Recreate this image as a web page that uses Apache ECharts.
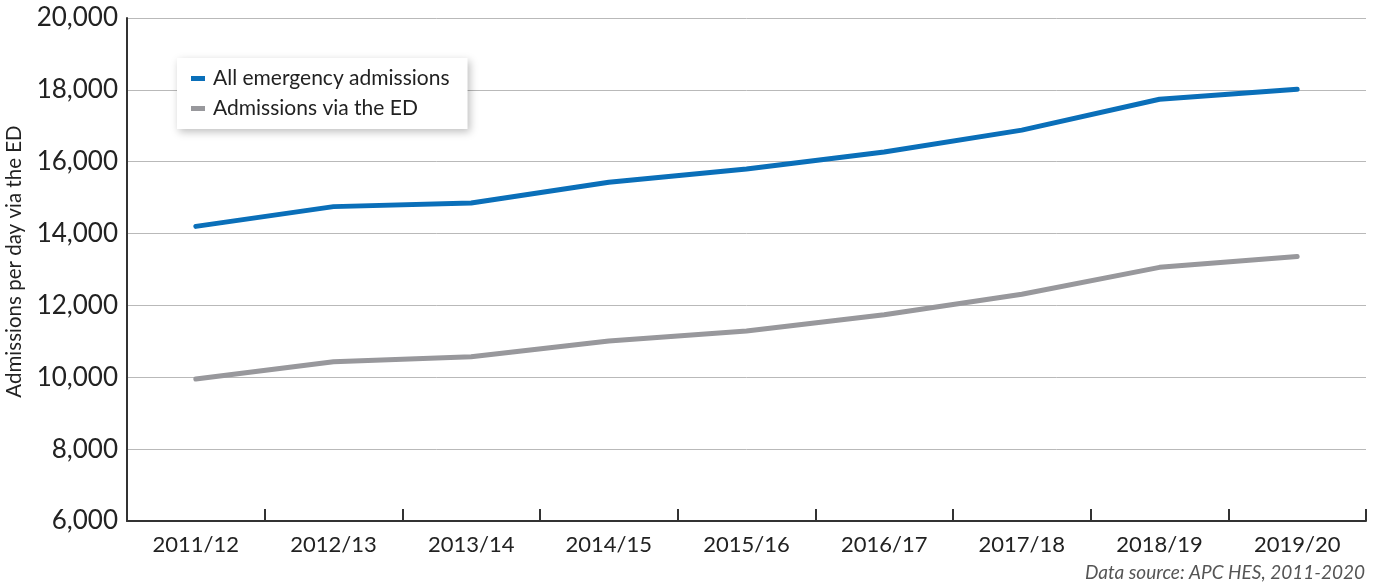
<!DOCTYPE html>
<html>
<head>
<meta charset="utf-8">
<script src="https://cdn.jsdelivr.net/npm/echarts@6/dist/echarts.min.js"></script>
<style>
  html, body { margin: 0; padding: 0; background: #fff; }
  #chart { width: 1381px; height: 588px; }
</style>
</head>
<body>
<div id="chart"></div>
<script>
// Financial years on the x axis
const years = ['2011/12', '2012/13', '2013/14', '2014/15', '2015/16', '2016/17', '2017/18', '2018/19', '2019/20'];

// Average admissions per day
const allEmergency = [14200, 14750, 14850, 15430, 15800, 16270, 16880, 17740, 18020];
const viaED = [9950, 10430, 10570, 11010, 11290, 11740, 12310, 13060, 13360];

const seriesNames = ['All emergency admissions', 'Admissions via the ED'];
const yAxisTitle = 'Admissions per day via the ED';
const sourceNote = 'Data source: APC HES, 2011-2020';

const FONT = 'Lato, "Open Sans", sans-serif';

const chart = echarts.init(document.getElementById('chart'), null, { renderer: 'canvas' });

chart.setOption({
  animation: false,
  backgroundColor: '#ffffff',
  grid: { left: 127, right: 15, top: 18, bottom: 67, containLabel: false, outerBoundsMode: 'none' },
  legend: {
    data: seriesNames,
    orient: 'vertical',
    left: 177,
    top: 58,
    itemWidth: 14,
    itemHeight: 5,
    itemGap: 9,
    icon: 'rect',
    padding: [10, 18, 10, 14],
    backgroundColor: '#ffffff',
    shadowColor: 'rgba(0,0,0,0.25)',
    shadowBlur: 8,
    shadowOffsetX: 2,
    shadowOffsetY: 3,
    textStyle: { fontFamily: FONT, fontSize: 21, color: '#222', padding: [0, 0, 0, 3] }
  },
  xAxis: {
    type: 'category',
    data: years,
    boundaryGap: true,
    axisLine: { lineStyle: { color: '#333', width: 2 } },
    axisTick: { show: true, inside: true, length: 12, alignWithLabel: false, lineStyle: { color: '#333', width: 2 } },
    axisLabel: { fontFamily: FONT, fontSize: 22, color: '#222', margin: 13 },
    splitLine: { show: false }
  },
  yAxis: {
    type: 'value',
    min: 6000,
    max: 20000,
    interval: 2000,
    name: yAxisTitle,
    nameLocation: 'middle',
    nameGap: 102,
    nameTextStyle: { fontFamily: FONT, fontSize: 20.5, color: '#222', padding: [0, 0, 0, 16] },
    axisLine: { show: true, lineStyle: { color: '#333', width: 2 } },
    axisTick: { show: false },
    axisLabel: {
      fontFamily: FONT,
      fontSize: 26,
      color: '#222',
      margin: 9,
      formatter: v => v.toLocaleString('en-US')
    },
    splitLine: { show: true, lineStyle: { color: '#b9b9b9', width: 1 } }
  },
  series: [
    {
      name: seriesNames[0],
      type: 'line',
      data: allEmergency,
      symbol: 'none',
      color: '#0a6fb9',
      lineStyle: { width: 5, color: '#0a6fb9', cap: 'round', join: 'round' }
    },
    {
      name: seriesNames[1],
      type: 'line',
      data: viaED,
      symbol: 'none',
      color: '#98989c',
      lineStyle: { width: 5, color: '#98989c', cap: 'round', join: 'round' }
    }
  ],
  graphic: [
    {
      type: 'text',
      right: 16,
      top: 563,
      style: {
        text: sourceNote,
        fontFamily: FONT,
        fontStyle: 'italic',
        fontSize: 19,
        fill: '#555'
      }
    }
  ]
});
</script>
</body>
</html>
